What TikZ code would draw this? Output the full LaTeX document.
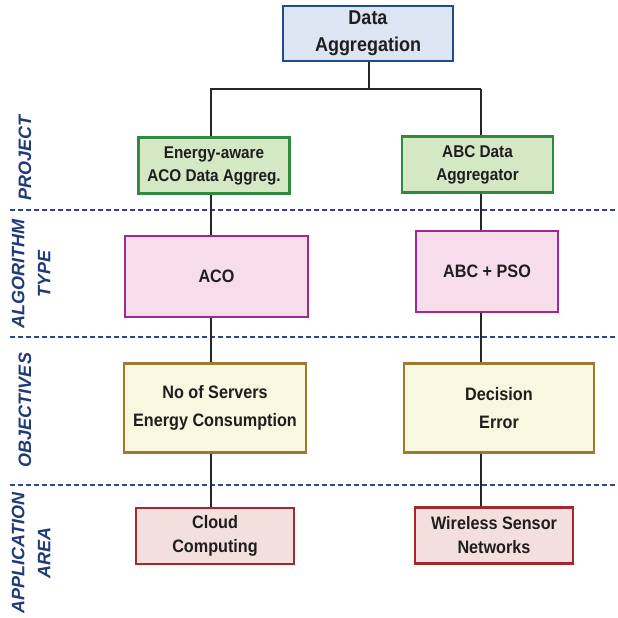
\documentclass[tikz,border=0pt]{standalone}
\usepackage{fontspec}
\setmainfont{Liberation Sans}[FakeStretch=0.9]
\newfontfamily\sidefont{Liberation Sans}
\usepackage{xcolor}
\usepackage{tikz}
\usetikzlibrary{positioning}

\definecolor{topline}{HTML}{1F4E8C}
\definecolor{topfill}{HTML}{DDE5F2}
\definecolor{projline}{HTML}{2E8B3E}
\definecolor{projfill}{HTML}{D5E8C5}
\definecolor{algoline}{HTML}{9E2A90}
\definecolor{algofill}{HTML}{F7DDEB}
\definecolor{objline}{HTML}{9A7B30}
\definecolor{objfill}{HTML}{F8F7DF}
\definecolor{appline}{HTML}{A62730}
\definecolor{appfill}{HTML}{F4DFDF}
\definecolor{sepline}{HTML}{2E4494}
\definecolor{sidetext}{HTML}{1F3A7A}
\definecolor{boxtext}{HTML}{1E1E1E}

\tikzset{
  box/.style={draw, line width=2.2pt, inner sep=0pt, align=center,
    text=boxtext, font=\bfseries\fontsize{18}{24}\selectfont},
  topbox/.style={box, draw=topline, fill=topfill, minimum width=170pt, minimum height=55pt,
    font=\bfseries\fontsize{20}{27}\selectfont},
  projbox/.style={box, draw=projline, fill=projfill, minimum width=151pt, minimum height=56pt,
    font=\bfseries\fontsize{17}{23}\selectfont},
  algobox/.style={box, draw=algoline, fill=algofill, minimum height=81pt},
  objbox/.style={box, draw=objline, fill=objfill, minimum height=89pt,
    font=\bfseries\fontsize{18}{28}\selectfont},
  appbox/.style={box, draw=appline, fill=appfill, minimum width=158pt, minimum height=56pt},
  sep/.style={draw=sepline, line width=1.8pt, dash pattern=on 5pt off 3pt},
  side/.style={rotate=90, align=center, text=sidetext,
    font=\sidefont\bfseries\itshape\fontsize{18}{26}\selectfont},
  link/.style={line width=1.5pt, black!85}
}

\begin{document}
\begin{tikzpicture}[x=1pt, y=-1pt]
        \useasboundingbox (0,0) rectangle (618,618);

        % separators between the rows
        \foreach \ya in {210, 337, 485}
            \draw[sep] (10,\ya) -- (618,\ya);

        \node[side] (lproj) at (25,158) {PROJECT};
        \node[side] (lalgo) at (31,274) {ALGORITHM\\TYPE};
        \node[side] (lobj) at (25,410) {OBJECTIVES};
        \node[side] (lapp) at (31,553) {APPLICATION\\AREA};

        \node[topbox] (top) at (368,33.5) {Data\\Aggregation};

        \node[projbox] (projL) at (214,165.5) {Energy-aware\\ACO Data Aggreg.};
        \node[projbox] (projR) at (477.5,164.5) {ABC Data\\Aggregator};

        \node[algobox, minimum width=183pt] (algoL) at (216.5,276.5) {ACO};
        \node[algobox, minimum width=142pt] (algoR) at (487,271.5) {ABC + PSO};

        \node[objbox, minimum width=182pt] (objL) at (215,408) {No of Servers\\Energy Consumption};
        \node[objbox, minimum width=190pt] (objR) at (499,408) {Decision\\Error};

        \node[appbox] (appL) at (215,536) {Cloud\\Computing};
        \node[appbox] (appR) at (494,535.5) {Wireless Sensor\\Networks};

        % tree joints
        \coordinate (split) at (369,89);
        \coordinate (jL) at (211,89);
        \coordinate (jR) at (481,89);

        \draw[link] (top.south -| split) -- (split);
        \draw[link] (jR) -- (jL) -- (jL |- projL.north);
        \draw[link] (jR) -- (jR |- projR.north);
        \foreach \a/\b in {projL/algoL, algoL/objL, objL/appL}
            \draw[link] (jL |- \a.south) -- (jL |- \b.north);
        \foreach \a/\b in {projR/algoR, algoR/objR, objR/appR}
            \draw[link] (jR |- \a.south) -- (jR |- \b.north);
    \end{tikzpicture}
\end{document}
